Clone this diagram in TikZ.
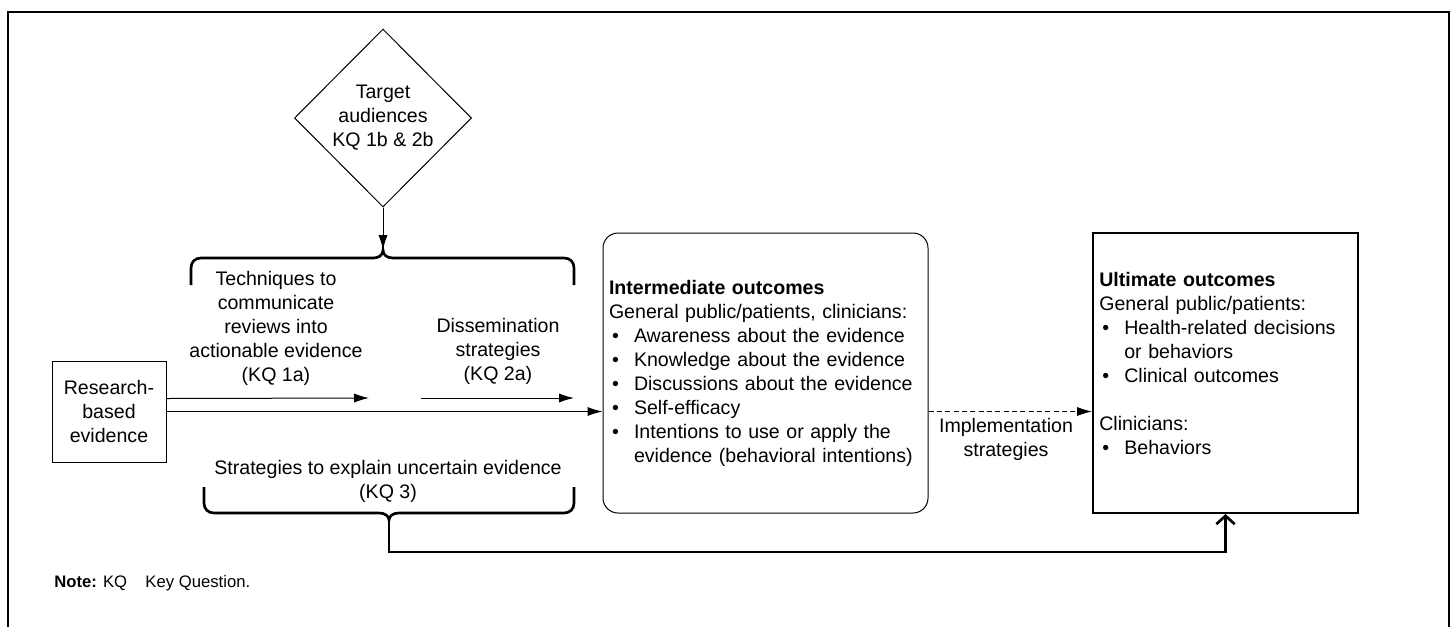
\documentclass[tikz,border=0pt]{standalone}
\usepackage{fontspec}
\setmainfont{Liberation Sans}
\usetikzlibrary{arrows.meta,shapes.geometric}

\tikzset{
  base/.style={font=\fontsize{11.75pt}{14.4pt}\selectfont},
  lbl/.style={base,inner sep=0pt,align=center},
  outbox/.style={base,draw,line width=0.6pt},
  brc/.style={line width=1.6pt},
  conn/.style={->,line width=0.6pt},
}
\newcommand{\itm}{\makebox[15pt][l]{\hspace{1.8pt}\textbullet}}

\begin{document}
\begin{tikzpicture}[x=0.6pt,y=-0.6pt,>={Latex[length=9pt,width=5.5pt]}]
  \useasboundingbox (0,0) rectangle (1453,627);
  % frame
  \draw[line width=1.2pt] (8,627) -- (8,12) -- (1449,12) -- (1449,627);

  \node[outbox,diamond,aspect=1,inner sep=0pt,minimum width=106.2pt,minimum height=106.8pt,align=center]
        (aud) at (383,118) {Target\\audiences\\KQ 1b \& 2b};
  \node[outbox,minimum width=68.4pt,minimum height=60.6pt,inner sep=0pt,align=center]
        (rbe) at (109,411.5) {Research-\\based\\evidence};
  \node[outbox,rounded corners=9pt,minimum width=195pt,minimum height=168pt,
        text width=187.8pt,inner xsep=3.6pt,inner ysep=0pt,align=left]
        (inter) at (765.5,373) {\textbf{Intermediate outcomes}\\
        General public/patients, clinicians:\\
        \itm Awareness about the evidence\\
        \itm Knowledge about the evidence\\
        \itm Discussions about the evidence\\
        \itm Self-efficacy\\
        \itm Intentions to use or apply the\\
        \hspace*{15pt}evidence (behavioral intentions)};
  \node[outbox,line width=1.2pt,minimum width=159pt,minimum height=168pt] (ult) at (1225.5,373) {};
  \node[lbl,align=left,anchor=north west,text width=150pt] (ulttxt) at (1099,272) {\textbf{Ultimate outcomes}\\
        General public/patients:\\
        \itm Health-related decisions\\
        \hspace*{15pt}or behaviors\\
        \itm Clinical outcomes\\[14.4pt]
        Clinicians:\\
        \itm Behaviors};

  % labels
  \node[lbl] (tech) at (276,328) {Techniques to\\communicate\\reviews into\\actionable evidence\\(KQ 1a)};
  \node[lbl] (diss) at (498,351) {Dissemination\\strategies\\(KQ 2a)};
  \node[lbl] (unc)  at (388,481) {Strategies to explain uncertain evidence\\(KQ 3)};
  \node[lbl] (impl) at (1006,439) {Implementation\\strategies};
  \node[inner sep=0pt,anchor=west,font=\fontsize{10pt}{12pt}\selectfont] (note) at (54,583)
        {\textbf{Note:} KQ\hspace{11pt}Key Question.};

  % braces
  \coordinate (ttip) at (383,250);
  \coordinate (btip) at (389,520);
  \draw[brc] (191,285) -- (191,268) .. controls (191,262) and (195,258) .. (201,258)
        -- (373,258) .. controls (379,258) and (383,255) .. (ttip)
        .. controls (383,255) and (387,258) .. (393,258)
        -- (564,258) .. controls (570,258) and (574,262) .. (574,268) -- (574,285);
  \draw[brc] (204,487) -- (204,503) .. controls (204,509) and (208,513) .. (214,513)
        -- (379,513) .. controls (385,513) and (389,516) .. (btip)
        .. controls (389,516) and (393,513) .. (399,513)
        -- (564,513) .. controls (570,513) and (574,509) .. (574,503) -- (574,487);

  % arrows
  \coordinate (a1s) at ([yshift=7.8pt]rbe.east);
  \coordinate (a1e) at (369,398);
  \coordinate (a2s) at (421,398);
  \coordinate (a2e) at (574,398);
  \draw[conn] (aud.south) -- (ttip);
  \draw[conn] (a1s) -- (a1e);
  \draw[conn] (a2s) -- (a2e);
  \draw[conn] (rbe.east) -- (rbe.east -| inter.west);
  \draw[conn,dash pattern=on 3pt off 2pt] (rbe.east -| inter.east) -- (rbe.east -| ult.west);
  \draw[brc,-{Straight Barb[length=5pt,width=11pt]}] (btip) -- (389,552) -| (ult.south);
\end{tikzpicture}
\end{document}
